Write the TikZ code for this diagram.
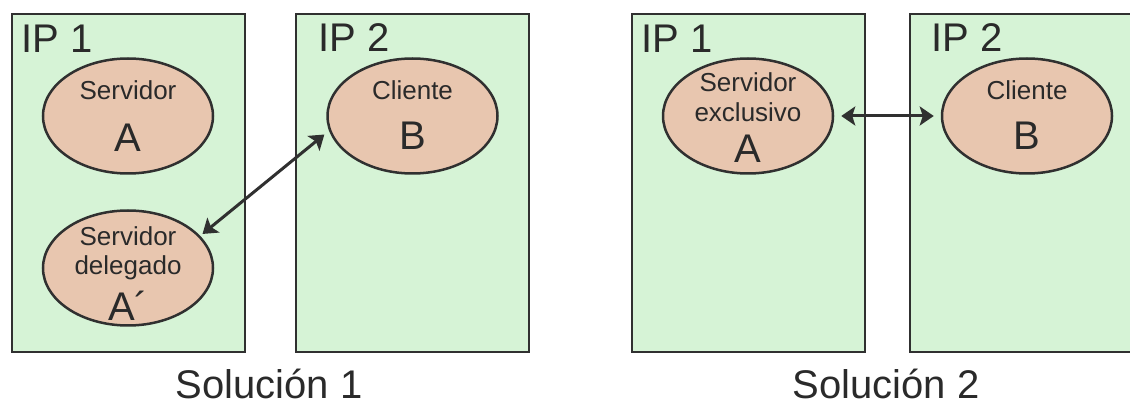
\documentclass[tikz,border=0pt]{standalone}
\usepackage{fontspec}
\setmainfont{Liberation Sans}
\usetikzlibrary{shapes.geometric,arrows.meta}
\definecolor{boxgreen}{HTML}{D6F3D6}
\definecolor{ellfill}{HTML}{E8C6AF}
\definecolor{stroke}{HTML}{303030}
\definecolor{txt}{HTML}{2A2A2A}
\tikzset{
  ipbox/.style={draw=stroke,fill=boxgreen,line width=2.6pt,rectangle,inner sep=0pt,minimum width=233pt,minimum height=338pt},
  proc/.style={draw=stroke,fill=ellfill,line width=2.5pt,ellipse,inner sep=0pt,minimum width=170pt,minimum height=115pt},
  small/.style={text=txt,anchor=base,inner sep=0pt,font=\fontsize{26}{30}\selectfont},
  big/.style={text=txt,anchor=base,inner sep=0pt,font=\fontsize{40}{46}\selectfont},
  iplabel/.style={text=txt,anchor=base west,inner sep=0pt,font=\fontsize{40}{46}\selectfont},
  link/.style={draw=stroke,line width=3pt,{Stealth[length=14pt,width=19pt,inset=3pt]}-{Stealth[length=14pt,width=19pt,inset=3pt]}}
}
\begin{document}
\begin{tikzpicture}[x=1pt,y=-1pt]
\useasboundingbox (0,0) rectangle (1130,403);
\clip (0,0) rectangle (1130,403);
% Solution 1
\node[ipbox] (box1) at (128.5,183) {};
\node[ipbox] (box2) at (412.5,183) {};
\node[iplabel] (ip1a) at (21,53) {IP 1};
\node[iplabel] (ip2a) at (318,52) {IP 2};
\node[proc] (A1) at (128,116) {};
\node[small] (A1t1) at (128,100) {Servidor};
\node[big] (A1t2) at (128,152) {A};
\node[proc] (Ap) at (128,268) {};
\node[small] (Apt1) at (128,246) {Servidor};
\node[small] (Apt2) at (128,275) {delegado};
\node[big] (Apt3) at (128,320) {A´};
\node[proc] (B1) at (412.5,116) {};
\node[small] (B1t1) at (412.5,100) {Cliente};
\node[big] (B1t2) at (412.5,150) {B};
\draw[link,shorten <=3pt,shorten >=6pt] (Ap.24) -- (B1.190);
\node[big,text depth=0pt] (sol1) at (269,398) {Solución 1};
% Solution 2
\node[ipbox] (box3) at (748.5,183) {};
\node[ipbox] (box4) at (1026.5,183) {};
\node[iplabel] (ip1b) at (641,53) {IP 1};
\node[iplabel] (ip2b) at (931,52) {IP 2};
\node[proc] (A2) at (748,116) {};
\node[small] (A2t1) at (748,92) {Servidor};
\node[small] (A2t2) at (748,122) {exclusivo};
\node[big] (A2t3) at (748,163) {A};
\node[proc] (B2) at (1027,116) {};
\node[small] (B2t1) at (1027,100) {Cliente};
\node[big] (B2t2) at (1027,150) {B};
\draw[link,shorten <=7pt,shorten >=7pt] (A2.east) -- (B2.west);
\node[big,text depth=0pt] (sol2) at (886,398) {Solución 2};
\end{tikzpicture}
\end{document}
